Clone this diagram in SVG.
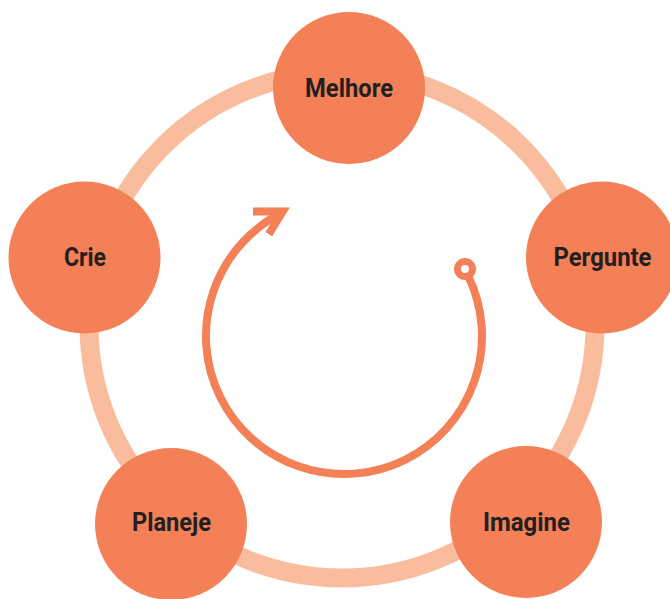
<svg xmlns="http://www.w3.org/2000/svg" width="670" height="599" viewBox="0 0 670 599">
  <style>
    .ring { fill: none; stroke: #F9BD9E; stroke-width: 19; }
    .node { fill: #F38056; }
    .label { font-family: Roboto, "Open Sans", "Liberation Sans", sans-serif; font-weight: 700; font-size: 26px; fill: #231F20; text-anchor: middle; }
    .flow { fill: none; stroke: #F38056; stroke-width: 8; }
  </style>
  <rect width="670" height="599" fill="#FFFFFF"/>

  <!-- outer cycle ring behind the steps -->
  <g id="connectors">
    <circle class="ring" cx="342" cy="325" r="253"/>
  </g>

  <!-- inner circular arrow -->
  <g id="cycle-arrow">
    <path class="flow" d="M 468.1 275.7 A 138 138 0 1 1 283.1 212.2"/>
    <polyline class="flow" points="253,211.5 282.7,211.5 268.8,234.2" stroke-linejoin="miter" stroke-linecap="butt"/>
    <circle cx="465" cy="269" r="7.5" fill="#FFFFFF" stroke="#F38056" stroke-width="7"/>
  </g>

  <g id="melhore">
    <circle class="node" cx="349" cy="88" r="76"/>
    <text class="label" x="349" y="97" textLength="88" lengthAdjust="spacingAndGlyphs">Melhore</text>
  </g>

  <g id="pergunte">
    <circle class="node" cx="602" cy="257.5" r="76"/>
    <text class="label" x="602.5" y="266" textLength="98" lengthAdjust="spacingAndGlyphs">Pergunte</text>
  </g>

  <g id="imagine">
    <circle class="node" cx="526" cy="522" r="76"/>
    <text class="label" x="526.5" y="531" textLength="87" lengthAdjust="spacingAndGlyphs">Imagine</text>
  </g>

  <g id="planeje">
    <circle class="node" cx="171" cy="524" r="76"/>
    <text class="label" x="171.5" y="530.5" textLength="79" lengthAdjust="spacingAndGlyphs">Planeje</text>
  </g>

  <g id="crie">
    <circle class="node" cx="84.5" cy="257.5" r="76"/>
    <text class="label" x="85" y="266" textLength="42" lengthAdjust="spacingAndGlyphs">Crie</text>
  </g>
</svg>
